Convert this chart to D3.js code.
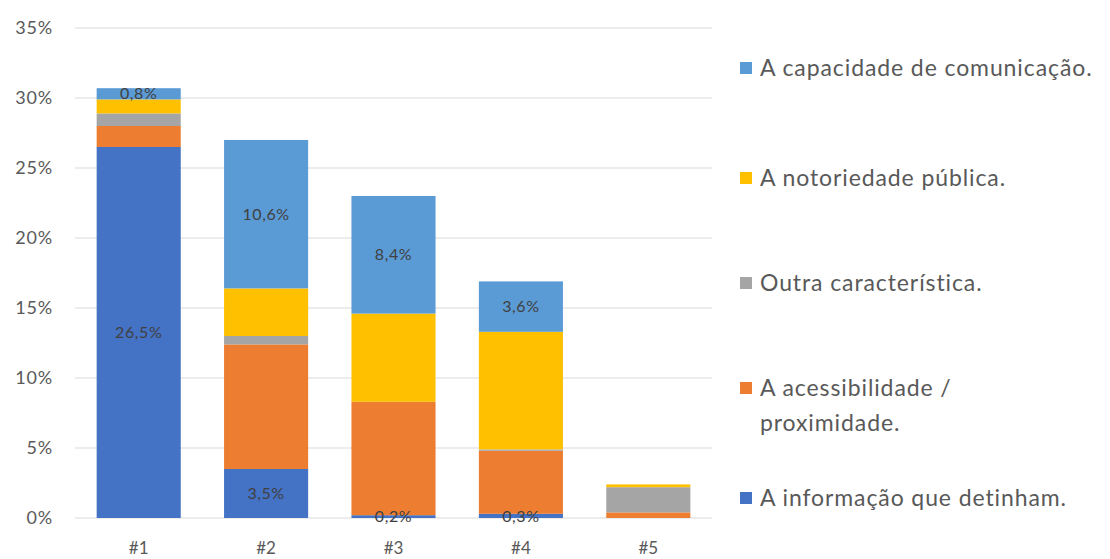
<!DOCTYPE html>
<html>
<head>
<meta charset="utf-8">
<script src="https://cdn.jsdelivr.net/npm/d3@7"></script>
<style>
  body { margin: 0; background: #fff; }
  svg text { font-family: Lato, "Open Sans", sans-serif; }
</style>
</head>
<body>
<svg id="chart" width="1110" height="559"></svg>
<script>
// categories and series (values in %)
const categories = ["#1", "#2", "#3", "#4", "#5"];
const seriesNames = [
    "A informação que detinham.",
    "A acessibilidade / proximidade.",
    "Outra característica.",
    "A notoriedade pública.",
    "A capacidade de comunicação."
];
const informacao = [26.5, 3.5, 0.2, 0.3, 0.0];
const acessibilidade = [1.5, 8.9, 8.1, 4.5, 0.4];
const outra = [0.9, 0.6, 0.0, 0.1, 1.8];
const notoriedade = [1.0, 3.4, 6.3, 8.4, 0.2];
const comunicacao = [0.8, 10.6, 8.4, 3.6, 0.0];
const yTicks = [0, 5, 10, 15, 20, 25, 30, 35];
const labelledSeries = ["A informação que detinham.", "A capacidade de comunicação."];

const colors = {
    "A informação que detinham.": "#4472C4",
    "A acessibilidade / proximidade.": "#ED7D31",
    "Outra característica.": "#A5A5A5",
    "A notoriedade pública.": "#FFC000",
    "A capacidade de comunicação.": "#5B9BD5"
};

const valuesBySeries = [informacao, acessibilidade, outra, notoriedade, comunicacao];
const table = categories.map((c, i) => {
    const row = { cat: c };
    seriesNames.forEach((s, j) => { row[s] = valuesBySeries[j][i]; });
    return row;
});

const svg = d3.select("#chart"),
    margin = { top: 28, left: 75, right: 398, bottom: 41 },
    width = +svg.attr("width"),
    height = +svg.attr("height"),
    innerWidth = width - margin.left - margin.right,
    innerHeight = height - margin.top - margin.bottom;

const g = svg.append("g").attr("transform", `translate(${margin.left},${margin.top})`);

const x = d3.scaleBand().domain(categories).range([0, innerWidth]).paddingInner(0.34).paddingOuter(0.17);
const y = d3.scaleLinear().domain([0, 35]).range([innerHeight, 0]);

// gridlines
g.selectAll(".grid")
    .data(yTicks).enter()
    .append("line")
    .attr("x1", 0).attr("x2", innerWidth)
    .attr("y1", d => y(d)).attr("y2", d => y(d))
    .attr("stroke", "#d9d9d9")
    .attr("stroke-width", 1.2);

// y axis labels
g.selectAll(".ylab")
    .data(yTicks).enter()
    .append("text")
    .attr("x", -22)
    .attr("y", d => y(d))
    .attr("dy", "0.35em")
    .attr("text-anchor", "end")
    .attr("fill", "#595959")
    .style("font-size", "18px")
    .style("letter-spacing", "0.8px")
    .text(d => d + "%");

const stacked = d3.stack().keys(seriesNames)(table);

const layers = g.selectAll(".layer")
    .data(stacked).enter()
    .append("g")
    .attr("fill", d => colors[d.key]);

layers.selectAll("rect")
    .data(d => d.filter(p => p[1] - p[0] > 0))
    .enter().append("rect")
    .attr("x", d => x(d.data.cat))
    .attr("width", x.bandwidth())
    .attr("y", d => y(d[1]))
    .attr("height", d => y(d[0]) - y(d[1]));

// data labels
stacked.filter(s => labelledSeries.includes(s.key)).forEach(s => {
    g.selectAll(null)
        .data(s.filter(p => p[1] - p[0] > 0))
        .enter().append("text")
        .attr("x", d => x(d.data.cat) + x.bandwidth() / 2)
        .attr("y", d => y((d[0] + d[1]) / 2))
        .attr("dy", "0.35em")
        .attr("text-anchor", "middle")
        .attr("fill", "#404040")
        .style("font-size", "16px")
        .style("letter-spacing", "0.6px")
        .text(d => d3.format(".1f")(d[1] - d[0]).replace(".", ",") + "%");
});

// x axis labels
g.selectAll(".xlab")
    .data(categories).enter()
    .append("text")
    .attr("x", d => x(d) + x.bandwidth() / 2)
    .attr("y", innerHeight + 36)
    .attr("text-anchor", "middle")
    .attr("fill", "#595959")
    .style("font-size", "17px")
    .text(d => d);

// legend (reverse order, top to bottom)
const legendItems = [
    { name: "A capacidade de comunicação.", lines: ["A capacidade de comunicação."], y: 68 },
    { name: "A notoriedade pública.", lines: ["A notoriedade pública."], y: 178 },
    { name: "Outra característica.", lines: ["Outra característica."], y: 283 },
    { name: "A acessibilidade / proximidade.", lines: ["A acessibilidade /", "proximidade."], y: 388 },
    { name: "A informação que detinham.", lines: ["A informação que detinham."], y: 498 }
];

const legend = svg.append("g");
legendItems.forEach(item => {
    legend.append("rect")
        .attr("x", 740).attr("y", item.y - 6)
        .attr("width", 12).attr("height", 12)
        .attr("fill", colors[item.name]);
    item.lines.forEach((t, i) => {
        legend.append("text")
            .attr("x", 760)
            .attr("y", item.y + i * 35)
            .attr("dy", "0.35em")
            .attr("fill", "#595959")
            .style("font-size", "23px")
            .style("letter-spacing", "0.9px")
            .text(t);
    });
});
</script>
</body>
</html>
